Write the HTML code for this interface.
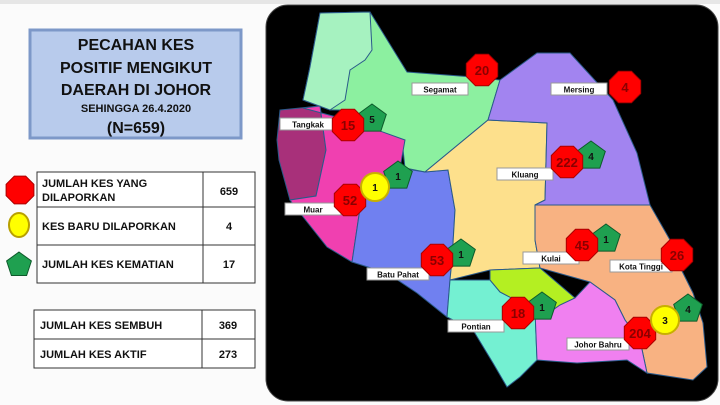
<!DOCTYPE html>
<html><head><meta charset="utf-8"><style>
html,body{margin:0;padding:0;background:#fbfbfb;width:720px;height:405px;overflow:hidden;font-family:"Liberation Sans",Arial,sans-serif}
svg{display:block}
</style></head><body>
<svg id="s" width="720" height="405" viewBox="0 0 720 405">
<rect x="0" y="0" width="720" height="4" fill="#e6e6e6"/>
<g>
<rect x="30" y="30" width="211" height="108" fill="#b8cbec" stroke="#7d98c8" stroke-width="3"/>
<g font-weight="bold" text-anchor="middle" fill="#111">
<text x="136" y="50" font-size="16">PECAHAN KES</text>
<text x="136" y="73" font-size="16">POSITIF MENGIKUT</text>
<text x="136" y="95" font-size="16">DAERAH DI JOHOR</text>
<text x="136" y="112" font-size="11">SEHINGGA 26.4.2020</text>
<text x="136" y="133" font-size="16">(N=659)</text>
</g></g>
<g font-weight="bold" font-size="11" fill="#111">
<rect x="37" y="172" width="218" height="111" fill="#fff" stroke="#333" stroke-width="1"/>
<line x1="37" y1="207" x2="255" y2="207" stroke="#333"/>
<line x1="37" y1="245" x2="255" y2="245" stroke="#333"/>
<line x1="203" y1="172" x2="203" y2="283" stroke="#333"/>
<text x="42" y="187">JUMLAH KES YANG</text><text x="42" y="201">DILAPORKAN</text>
<text x="229" y="195" text-anchor="middle">659</text>
<text x="42" y="230">KES BARU DILAPORKAN</text><text x="229" y="230" text-anchor="middle">4</text>
<text x="42" y="268">JUMLAH KES KEMATIAN</text><text x="229" y="268" text-anchor="middle">17</text>
</g>
<g font-weight="bold" font-size="11" fill="#111">
<rect x="34" y="310" width="221" height="58" fill="#fff" stroke="#333"/>
<line x1="34" y1="339" x2="255" y2="339" stroke="#333"/>
<line x1="202" y1="310" x2="202" y2="368" stroke="#333"/>
<text x="40" y="329">JUMLAH KES SEMBUH</text><text x="228" y="329" text-anchor="middle">369</text>
<text x="40" y="358">JUMLAH KES AKTIF</text><text x="228" y="358" text-anchor="middle">273</text>
</g>
<rect x="266" y="5" width="452" height="396" rx="22" fill="#000" stroke="#444"/>
<g id="regions" stroke="#2a5a8a" stroke-width="1"></g>
<g id="labels"></g>
<g id="markers"></g>
<g id="legicons"></g>
</svg>
<script>
const NS="http://www.w3.org/2000/svg";
const districts=["Segamat","Mersing","Tangkak","Kluang","Muar","Kulai","Kota Tinggi","Batu Pahat","Pontian","Johor Bahru"];
const totalCases=[20,4,15,222,52,45,26,53,18,204];
const newCases=[0,0,0,0,1,0,0,0,0,3];
const deaths=[0,0,5,4,1,1,0,1,1,4];
// anchor/layout geometry (not data)
const anchors={"Segamat":[482,70,412,83],"Mersing":[625,87,551,83],"Tangkak":[348,125,280,118],"Kluang":[567,162,497,168],"Muar":[350,200,285,203],"Kulai":[582,245,523,252],"Kota Tinggi":[677,255,610,260],"Batu Pahat":[437,260,367,268],"Pontian":[518,313,448,320],"Johor Bahru":[640,333,567,338]};
const regions=[
["tangkak-dark","#a8307a","280,110 320,106 326,150 316,196 290,200 279,160 277,140"],
["segamat","#8cf0a0","320,13 370,12 407,72 473,77 500,80 488,120 425,172 405,168 402,140 360,130 350,110 330,110 303,100 310,67"],
["tangkak-north","#a6f2c0","320,13 370,12 372,50 365,60 350,70 345,100 330,110 303,100 310,67"],
["muar","#f040b0","303,108 355,122 405,140 400,168 362,195 352,262 327,247 300,213 290,200 316,196 326,150 320,106"],
["batu-pahat","#7080f0","362,195 400,168 425,172 448,170 455,210 452,260 450,280 447,317 417,293 387,273 352,262"],
["kluang","#fde08c","425,172 488,120 547,123 545,200 535,205 535,240 540,268 490,270 450,280 452,260 455,210 448,170"],
["mersing","#a284f0","500,80 537,53 570,53 613,100 637,153 650,205 535,205 545,200 547,123 488,120"],
["kota-tinggi","#f8b282","535,205 650,205 670,240 680,267 693,293 703,323 707,367 693,380 647,373 640,340 625,320 615,300 590,282 540,268 535,240"],
["pontian","#74f0d2","450,280 490,280 500,292 535,310 537,360 520,377 507,387 493,363 473,330 447,317"],
["kulai","#b4ef22","490,270 540,268 575,298 560,305 550,312 540,306 525,305 500,292 490,280"],
["johor-bahru","#f080f0","525,305 540,306 550,312 560,305 575,298 590,282 615,300 625,320 640,340 647,373 627,360 577,363 537,360 535,310"]];
const rg=document.getElementById('regions');
regions.forEach(r=>{const p=document.createElementNS(NS,'polygon');p.setAttribute('points',r[2]);p.setAttribute('fill',r[1]);


rg.appendChild(p);});
function oct(cx,cy,r){let s=[];for(let i=0;i<8;i++){const a=Math.PI/8+i*Math.PI/4;s.push((cx+r*Math.cos(a)).toFixed(1)+','+(cy+r*Math.sin(a)).toFixed(1));}return s.join(' ');}
function pent(cx,cy,r){let s=[];for(let i=0;i<5;i++){const a=-Math.PI/2+i*2*Math.PI/5;s.push((cx+r*Math.cos(a)).toFixed(1)+','+(cy+r*Math.sin(a)).toFixed(1));}return s.join(' ');}
function txt(g,x,y,t,sz,fill){const e=document.createElementNS(NS,'text');e.setAttribute('x',x);e.setAttribute('y',y);e.setAttribute('text-anchor','middle');e.setAttribute('font-size',sz);e.setAttribute('font-weight','bold');e.setAttribute('fill',fill);e.textContent=t;g.appendChild(e);return e;}
const lg=document.getElementById('labels'),mg=document.getElementById('markers');
districts.forEach((d,i)=>{const a=anchors[d];const slug=d.toLowerCase().replace(' ','-');
const g=document.createElementNS(NS,'g');


const r=document.createElementNS(NS,'rect');r.setAttribute('x',a[2]);r.setAttribute('y',a[3]);r.setAttribute('width',d.length>7?62:56);r.setAttribute('height',12);r.setAttribute('fill','#fff');r.setAttribute('stroke','#999');g.appendChild(r);
txt(g,a[2]+(d.length>7?31:28),a[3]+9.5,d,8,'#111');lg.appendChild(g);
const mk=document.createElementNS(NS,'g');


const cx=a[0],cy=a[1];
const hasNew=newCases[i]>0;
if(deaths[i]>0){const dx=cx+(hasNew?48:24),dy=cy-(hasNew?24:6);const p=document.createElementNS(NS,'polygon');p.setAttribute('points',pent(dx,dy,15));p.setAttribute('fill','#1fa050');p.setAttribute('stroke','#0d5a2a');mk.appendChild(p);txt(mk,dx,dy+4,String(deaths[i]),10,'#111');}
const o=document.createElementNS(NS,'polygon');o.setAttribute('points',oct(cx,cy,17));o.setAttribute('fill','#f00');o.setAttribute('stroke','#a00');mk.appendChild(o);
txt(mk,cx,cy+5,String(totalCases[i]),13,'#8a0000');
if(hasNew){const nx=cx+25,ny=cy-13;const c=document.createElementNS(NS,'circle');c.setAttribute('cx',nx);c.setAttribute('cy',ny);c.setAttribute('r',14);c.setAttribute('fill','#ffff00');c.setAttribute('stroke','#c8b000');c.setAttribute('stroke-width','2');mk.appendChild(c);txt(mk,nx,ny+4,String(newCases[i]),10,'#111');}
mg.appendChild(mk);});
const li=document.getElementById('legicons');
const o1=document.createElementNS(NS,'polygon');o1.setAttribute('points',oct(20,190,15));o1.setAttribute('fill','#f00');o1.setAttribute('stroke','#a00');

li.appendChild(o1);
const c1=document.createElementNS(NS,'ellipse');c1.setAttribute('cx',19);c1.setAttribute('cy',225);c1.setAttribute('rx',10);c1.setAttribute('ry',12);c1.setAttribute('fill','#ffff00');c1.setAttribute('stroke','#b8a000');c1.setAttribute('stroke-width','2');

li.appendChild(c1);
const p1=document.createElementNS(NS,'polygon');p1.setAttribute('points',pent(19,265,13));p1.setAttribute('fill','#1fa050');p1.setAttribute('stroke','#0d5a2a');

li.appendChild(p1);
</script>
</body></html>
